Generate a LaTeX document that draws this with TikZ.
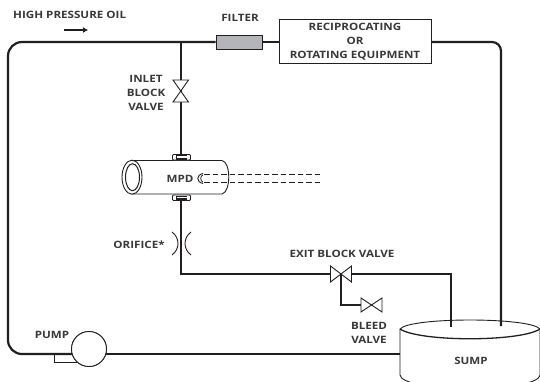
\documentclass[tikz,border=0pt]{standalone}
\usepackage{fontspec}
\setmainfont{Open Sans}[FakeStretch=1.15]
\usetikzlibrary{arrows.meta}
\definecolor{ink}{HTML}{231F20}
\definecolor{lab}{HTML}{3A3839}
\definecolor{filt}{HTML}{B4B5B8}
\tikzset{
  pipe/.style={draw=ink,line width=2.2pt},
  thin line/.style={draw=ink,line width=0.9pt},
  lbl/.style={text=lab,font=\bfseries\fontsize{10.1}{13.8}\selectfont,align=center,inner sep=0pt},
  valve/.style={draw=ink,line width=0.9pt,fill=white},
}
\begin{document}
\begin{tikzpicture}[x=1pt,y=-1pt]
\useasboundingbox (0,0) rectangle (540,381);
\clip (0,0) rectangle (540,381);
\fill[white] (0,0) rectangle (540,381);
% anchors
\coordinate (tee) at (181,42);
\coordinate (tl) at (8,42);
\coordinate (bl) at (8,354);
\coordinate (tr) at (501,42);
\coordinate (sumpR) at (501,326);
\coordinate (sumpL) at (400,355);
\coordinate (sumpE) at (451,327);
\coordinate (exitC) at (451,274);
\coordinate (orC) at (181,274);
\coordinate (iv) at (181,91);
\coordinate (ev) at (341,274);
\coordinate (bv) at (371.5,305);
\coordinate (bc) at (341,305);
\coordinate (mpdT) at (181,155);
\coordinate (mpdB) at (181,200);
% nodes
\node[draw=ink,line width=1pt,fill=filt,minimum width=46pt,minimum height=14pt,inner sep=0pt] (filter) at (239,42) {};
\node[draw=ink,line width=0.9pt,fill=white,minimum width=152pt,minimum height=44pt,inner sep=0pt] (equip) at (355,41) {};
\node[lbl] (eq) at (355,41.5) {RECIPROCATING\\OR\\ROTATING EQUIPMENT};
\node[draw=ink,line width=0.9pt,fill=white,circle,minimum size=35pt,inner sep=0pt] (pump) at (89,349) {};
% pipes
\draw[pipe,rounded corners=14pt] (filter.west) -- (tl) -- (bl) -- (pump.center |- bl);
\draw[pipe] (filter.east) -- (equip.west |- filter);
\draw[pipe,rounded corners=9pt] (equip.east |- tr) -- (tr) -- (sumpR);
\draw[pipe] (tee) -- (mpdT);
\draw[pipe] (mpdB) -- (orC) -- (ev);
\draw[pipe] (ev) -- (exitC) -- (sumpE);
\draw[pipe] (ev) -- (bc) -- (bv);
\draw[pipe] (pump.center |- bl) -- (sumpL |- bl);
% pump redraw
\draw[thin line] (71,354) -- (54,354) -- (54,362) -- (77,362);
\node[draw=ink,line width=0.9pt,fill=white,circle,minimum size=35pt,inner sep=0pt] at (pump) {};
% valves
\draw[valve] (173,80) -- (188.5,80) -- (173,102) -- (188.5,102) -- cycle;
\draw[valve] (330.5,266) -- (330.5,282) -- (351.5,266) -- (351.5,282) -- cycle;
\draw[valve] (361,298) -- (361,312) -- (382,298) -- (382,312) -- cycle;
% orifice
\draw[thin line] (172,232) .. controls (180,238) and (180,249) .. (172,255);
\draw[thin line] (191,232) .. controls (183,238) and (183,249) .. (191,255);
% sump
\draw[thin line,fill=white] (400,329) -- (400,375) .. controls (400,382.7) and (431.4,389) .. (470,389) .. controls (508.6,389) and (540,382.7) .. (540,375) -- (540,329);
\draw[thin line] (400,329) .. controls (410,317) and (530,317) .. (540,329);
\draw[line width=1.3pt,draw=ink] (400,329) .. controls (420,342) and (520,342) .. (540,329);
\draw[pipe] (sumpR) -- ++(0,-1);
\draw[pipe] (sumpE) -- ++(0,-1);
% MPD
\draw[thin line,fill=white] (132,160.5) -- (222,160.5) .. controls (231,162) and (231,192) .. (222,194) -- (132,194);
\draw[draw=ink,line width=0.9pt,fill=white] (132,177.2) ellipse (10pt and 17pt);
\draw[draw=ink,line width=1pt] (132.5,177.2) ellipse (7pt and 13.5pt);
\draw[draw=ink,line width=0.9pt,fill=white,rounded corners=1pt] (172.5,154.5) rectangle (190.5,160);
\draw[draw=ink,line width=0.9pt,fill=white,rounded corners=1pt] (172.5,195) rectangle (190.5,200.5);
\foreach \yy in {155,195.5} \fill[ink] (176,\yy) rectangle (187,\yy+4.5);
\foreach \yy in {157,197.5} \draw[white,line width=1.4pt] (176.5,\yy) -- (186.5,\yy);
\draw[draw=ink,line width=0.9pt] (203,173.5) .. controls (196,175) and (196,182) .. (203,183.5);
\draw[draw=ink,line width=0.8pt] (203,174.8) .. controls (200,176) and (200,181) .. (203,182.2);
\draw[thin line,dash pattern=on 5.5pt off 3pt] (204,174) -- (322,174);
\draw[thin line,dash pattern=on 5.5pt off 3pt] (204,182) -- (322,182);
% arrow
\coordinate (fa) at (64,30); \coordinate (fb) at (88,30);
\draw[draw=ink,line width=1.3pt,-{Latex[length=5pt,width=6pt]}] (fa) -- (fb);
% labels
\node[lbl,anchor=west] (hp) at (13,15) {HIGH PRESSURE OIL};
\node[lbl] (fl) at (240,18) {FILTER};
\node[lbl] (il) at (146,93) {INLET\\BLOCK\\VALVE};
\node[lbl] (mpd) at (180,178.5) {MPD};
\node[lbl] (ol) at (139,245) {ORIFICE*};
\node[lbl] (el) at (342,254) {EXIT BLOCK VALVE};
\node[lbl] (bl2) at (369,333) {BLEED\\VALVE};
\node[lbl] (pl) at (52,335) {PUMP};
\node[lbl] (sl) at (471,361) {SUMP};
\end{tikzpicture}
\end{document}
